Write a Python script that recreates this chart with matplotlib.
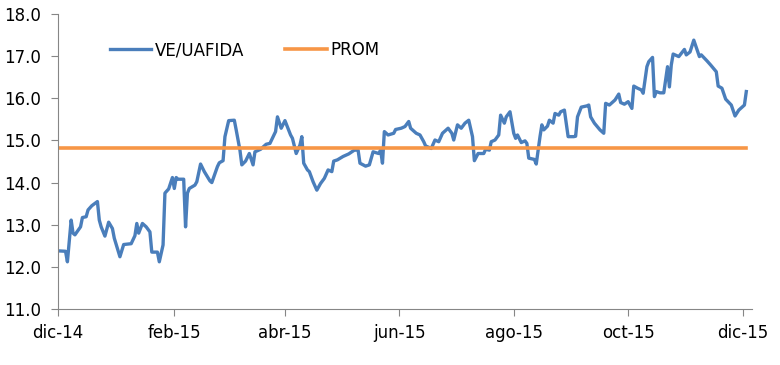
import pandas as pd
import matplotlib
matplotlib.use("Agg")
import matplotlib.pyplot as plt

# days since 2014-12-01 and VE/UAFIDA multiple
days = [0, 4, 5, 7, 8, 9, 12, 13, 15, 16, 18, 21, 22, 23, 25, 27, 29, 30, 33, 35,
        39, 41, 42, 43, 45, 47, 49, 50, 53, 54, 56, 57, 59, 61, 62, 63, 64, 67, 68, 69,
        70, 73, 74, 76, 78, 81, 82, 85, 86, 88, 89, 91, 94, 95, 97, 98, 100, 102, 104, 105,
        108, 111, 113, 116, 117, 119, 121, 124, 125, 127, 129, 130, 131, 133, 134, 136, 138, 140, 142, 144,
        146, 147, 149, 152, 155, 158, 160, 161, 164, 166, 168, 171, 172, 173, 174, 176, 179, 180, 183, 185,
        187, 188, 191, 193, 195, 196, 199, 201, 203, 205, 208, 210, 211, 213, 215, 217, 219, 221, 222, 224,
        227, 228, 230, 231, 233, 235, 236, 238, 239, 241, 243, 244, 245, 247, 249, 250, 251, 254, 255, 257,
        258, 259, 261, 262, 264, 265, 267, 268, 270, 272, 275, 276, 277, 279, 282, 283, 284, 286, 289, 291,
        292, 294, 296, 297, 299, 300, 302, 304, 306, 307, 309, 311, 312, 314, 315, 317, 318, 319, 321, 323,
        325, 326, 327, 328, 331, 334, 335, 337, 339, 342, 343, 346, 348, 351, 352, 354, 356, 359, 361, 363,
        366, 367]
ve_uafida = [12.38, 12.37, 12.12, 13.11, 12.80, 12.76, 12.95, 13.17, 13.19, 13.35, 13.45, 13.55, 13.11, 12.95, 12.73, 13.06, 12.91, 12.68, 12.24, 12.53,
             12.55, 12.74, 13.03, 12.80, 13.03, 12.95, 12.83, 12.35, 12.35, 12.12, 12.52, 13.75, 13.85, 14.12, 13.86, 14.12, 14.08, 14.08, 12.95, 13.75,
             13.86, 13.94, 14.02, 14.44, 14.26, 14.04, 14.00, 14.38, 14.47, 14.52, 15.09, 15.47, 15.48, 15.25, 14.77, 14.42, 14.51, 14.69, 14.42, 14.73,
             14.79, 14.91, 14.93, 15.21, 15.56, 15.29, 15.47, 15.13, 15.05, 14.69, 14.89, 15.09, 14.46, 14.30, 14.26, 14.02, 13.82, 13.98, 14.10, 14.30,
             14.26, 14.51, 14.54, 14.62, 14.68, 14.77, 14.77, 14.46, 14.39, 14.42, 14.73, 14.69, 14.77, 14.46, 15.21, 15.13, 15.17, 15.26, 15.29, 15.33,
             15.45, 15.29, 15.17, 15.13, 14.97, 14.87, 14.81, 15.01, 14.97, 15.17, 15.29, 15.17, 15.01, 15.37, 15.29, 15.41, 15.48, 15.09, 14.52, 14.69,
             14.69, 14.79, 14.77, 14.97, 15.01, 15.13, 15.60, 15.41, 15.56, 15.68, 15.17, 15.05, 15.13, 14.95, 14.99, 14.93, 14.58, 14.55, 14.44, 15.09,
             15.37, 15.25, 15.34, 15.48, 15.41, 15.64, 15.60, 15.68, 15.72, 15.09, 15.09, 15.10, 15.56, 15.79, 15.82, 15.84, 15.56, 15.41, 15.25, 15.17,
             15.88, 15.84, 15.92, 15.96, 16.10, 15.90, 15.86, 15.92, 15.76, 16.29, 16.24, 16.20, 16.12, 16.75, 16.87, 16.97, 16.04, 16.16, 16.13, 16.13,
             16.75, 16.27, 16.79, 17.05, 16.99, 17.16, 17.03, 17.10, 17.38, 16.99, 17.03, 16.89, 16.79, 16.63, 16.29, 16.24, 15.98, 15.84, 15.58, 15.72,
             15.84, 16.16]
prom = 14.83

start = pd.Timestamp("2014-12-01")
dates = start + pd.to_timedelta(days, unit="D")
ticks = pd.date_range("2014-12-01", "2015-12-01", freq="2MS")
tick_labels = ["dic-14", "feb-15", "abr-15", "jun-15", "ago-15", "oct-15", "dic-15"]

fig = plt.figure(figsize=(7.8, 3.65), dpi=100)
ax = fig.add_axes([0.0744, 0.1534, 0.8896, 0.8082])

ax.plot(dates, ve_uafida, color="#4A7EBB", lw=2.4, label="VE/UAFIDA", solid_joinstyle="round")
ax.plot([dates[0], dates[-1]], [prom, prom], color="#F79646", lw=2.6, label="PROM")

ax.set_ylim(11, 18)
ax.set_yticks(range(11, 19))
ax.set_yticklabels([f"{v:.1f}" for v in range(11, 19)])
ax.set_xlim(start, start + pd.Timedelta(days=370))
ax.set_xticks(ticks)
ax.set_xticklabels(tick_labels)

for s in ["top", "right"]:
    ax.spines[s].set_visible(False)
for s in ["left", "bottom"]:
    ax.spines[s].set_color("#868686")
ax.tick_params(axis="both", colors="#868686", labelcolor="black", labelsize=12, length=5, width=0.8)
ax.tick_params(axis="y", pad=7.5)
ax.tick_params(axis="x", pad=5.5)

ax.legend(loc="center left", bbox_to_anchor=(0.053, 0.878), ncol=2, frameon=False,
          fontsize=12, handlelength=2.5, columnspacing=2.45, handletextpad=0.2)

fig.savefig("out.png", dpi=100)
